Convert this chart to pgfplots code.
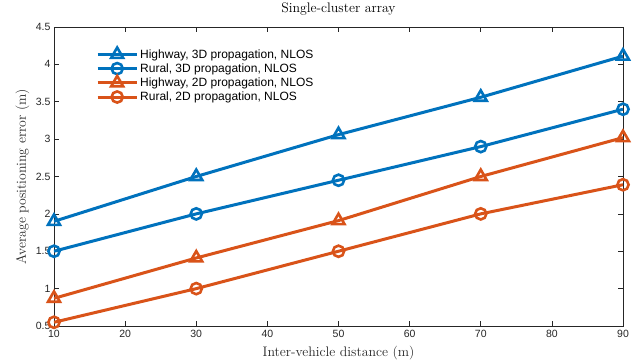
\documentclass[border=0pt]{standalone}
\usepackage{fontspec}
\setsansfont{Liberation Sans}
\usepackage{pgfplots}
\pgfplotsset{compat=1.18}

\definecolor{mblue}{rgb}{0,0.447,0.741}
\definecolor{morange}{rgb}{0.85,0.325,0.098}
\definecolor{axgray}{rgb}{0.15,0.15,0.15}

\pgfplotsset{
  tri/.style={mark=triangle, mark size=6.9pt,
    mark options={fill=white, line width=2.6pt, solid}},
  circ/.style={mark=o, mark size=5.6pt,
    mark options={fill=white, line width=2.6pt, solid}},
}

\begin{document}
\begin{tikzpicture}
\begin{axis}[
  at={(0pt,0pt)}, anchor=south west,
  scale only axis,
  width=569pt, height=299pt,
  xmin=10, xmax=90, ymin=0.5, ymax=4.5,
  xtick={10,20,...,90},
  ytick={0.5,1,...,4.5},
  yticklabels={0.5,1,1.5,2,2.5,3,3.5,4,4.5},
  tick align=inside,
  major tick length=5pt,
  axis line style={axgray, line width=0.6pt},
  every tick/.style={axgray, line width=0.6pt},
  tick label style={font=\sffamily\fontsize{10.5}{12}\selectfont, text=axgray},
  /pgf/number format/assume math mode=true,
  xticklabel style={yshift=-1pt},
  title={Single-cluster array},
  title style={font=\fontsize{13.8}{16}\selectfont,
    at={(axis description cs:0.5,1)}, anchor=base, yshift=8pt},
  xlabel={Inter-vehicle distance (m)},
  ylabel={Average positioning error (m)},
  label style={font=\fontsize{13.8}{16}\selectfont, text=axgray},
  xlabel style={at={(axis description cs:0.5,0)}, anchor=base, yshift=-30pt},
  ylabel style={at={(axis description cs:0,0.5)}, anchor=base, yshift=28pt},
  legend style={draw=none, fill=none, at={(0.072,0.936)}, anchor=north west,
    font=\sffamily\fontsize{12}{14}\selectfont, row sep=0pt,
    inner sep=1pt},
  legend cell align=left,
  legend image code/.code={%
    \draw[mark repeat=2, mark phase=2]
      plot coordinates {(0pt,0pt) (19.5pt,0pt) (39pt,0pt)};},
]
\addplot[mblue, line width=3pt, tri]
  coordinates {(10,1.9) (30,2.5) (50,3.06) (70,3.56) (90,4.11)};
\addlegendentry{Highway, 3D propagation, NLOS}
\addplot[mblue, line width=3pt, circ]
  coordinates {(10,1.5) (30,2.0) (50,2.45) (70,2.9) (90,3.4)};
\addlegendentry{Rural, 3D propagation, NLOS}
\addplot[morange, line width=3pt, tri]
  coordinates {(10,0.87) (30,1.41) (50,1.91) (70,2.5) (90,3.02)};
\addlegendentry{Highway, 2D propagation, NLOS}
\addplot[morange, line width=3pt, circ]
  coordinates {(10,0.55) (30,1.0) (50,1.5) (70,2.0) (90,2.39)};
\addlegendentry{Rural, 2D propagation, NLOS}
\end{axis}
\pgfresetboundingbox
\path (-54pt,-36pt) rectangle (585pt,326pt);
\end{tikzpicture}
\end{document}
